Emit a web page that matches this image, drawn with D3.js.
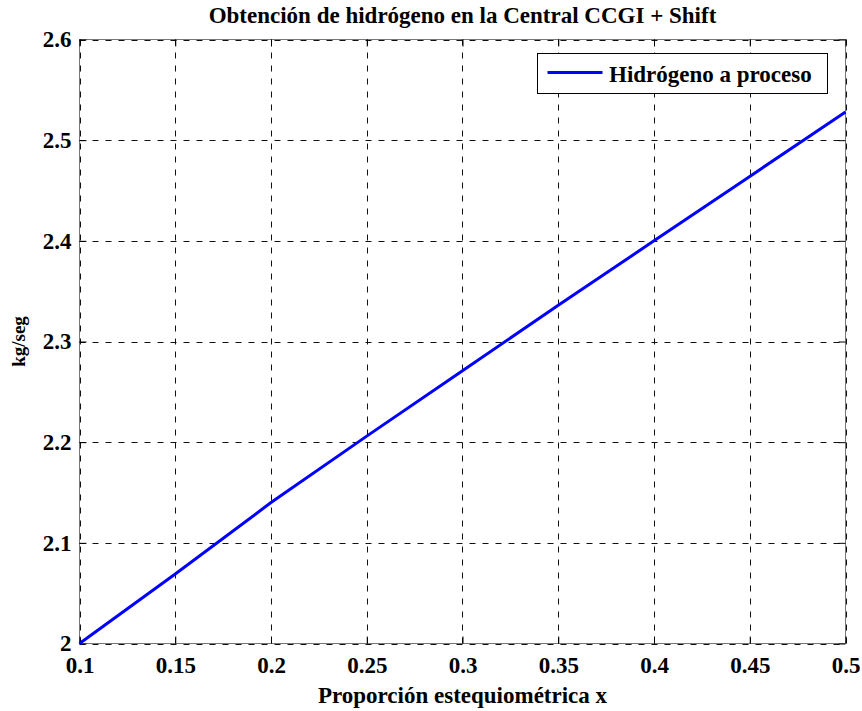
<!DOCTYPE html>
<html>
<head>
<meta charset="utf-8">
<script src="https://cdn.jsdelivr.net/npm/d3@7"></script>
<style>
  html, body { margin: 0; padding: 0; background: #fff; }
  svg { display: block; }
  text { font-family: "Liberation Serif", "Times New Roman", serif; font-weight: bold; fill: #000; }
</style>
</head>
<body>
<div id="chart"></div>
<script>
// ---- Data ----
const title = "Obtención de hidrógeno en la Central CCGI + Shift";
const xLabel = "Proporción estequiométrica x";
const yLabel = "kg/seg";
const seriesName = "Hidrógeno a proceso";
const proportion = [0.1, 0.15, 0.2, 0.25, 0.3, 0.35, 0.4, 0.45, 0.5];
const hydrogen   = [2.000, 2.069, 2.140, 2.206, 2.271, 2.336, 2.400, 2.464, 2.528];
const xTicks = [0.1, 0.15, 0.2, 0.25, 0.3, 0.35, 0.4, 0.45, 0.5];
const yTicks = [2, 2.1, 2.2, 2.3, 2.4, 2.5, 2.6];

// ---- Layout ----
const W = 862, H = 711;
const plot = { left: 79.5, right: 845.5, top: 39.5, bottom: 643.5 };
const serif = '"Liberation Serif", "Times New Roman", serif';

const svg = d3.select("#chart").append("svg").attr("width", W).attr("height", H);

const x = d3.scaleLinear().domain([0.1, 0.5]).range([plot.left, plot.right]);
const y = d3.scaleLinear().domain([2, 2.6]).range([plot.bottom, plot.top]);

const fmt = d => String(+d.toFixed(2));

// box (under grid)
svg.append("rect")
  .attr("x", plot.left).attr("y", plot.top)
  .attr("width", plot.right - plot.left).attr("height", plot.bottom - plot.top)
  .attr("fill", "none").attr("stroke", "#777").attr("stroke-width", 1);

// grid
const grid = svg.append("g").attr("stroke", "#111").attr("stroke-width", 1)
  .attr("stroke-dasharray", "6,7").attr("fill", "none");
grid.selectAll(".vg").data(xTicks).join("line")
  .attr("x1", d => Math.round(x(d)) + 0.5).attr("x2", d => Math.round(x(d)) + 0.5)
  .attr("y1", plot.top).attr("y2", plot.bottom);
grid.selectAll(".hg").data(yTicks).join("line")
  .attr("y1", d => Math.round(y(d)) + 0.5).attr("y2", d => Math.round(y(d)) + 0.5)
  .attr("x1", plot.left).attr("x2", plot.right);

// axes (ticks inward, labels)
const tickLen = 7;
const xAxis = d3.axisBottom(x).tickValues(xTicks).tickFormat(fmt).tickSizeInner(-tickLen).tickSizeOuter(0).tickPadding(13);
const gx = svg.append("g").attr("transform", `translate(0,${plot.bottom})`).call(xAxis)
  .attr("font-family", serif).attr("font-weight", "bold");
gx.select(".domain").remove();
gx.selectAll("line").attr("stroke", "#000");
gx.selectAll("text").style("font-size", "23px").style("font-family", serif).attr("dy", "0.71em");

const xAxisTop = d3.axisTop(x).tickValues(xTicks).tickFormat("").tickSizeInner(-tickLen).tickSizeOuter(0);
const gxt = svg.append("g").attr("transform", `translate(0,${plot.top})`).call(xAxisTop);
gxt.select(".domain").remove();
gxt.selectAll("line").attr("stroke", "#000");

const yAxis = d3.axisLeft(y).tickValues(yTicks).tickFormat(fmt).tickSizeInner(-tickLen).tickSizeOuter(0).tickPadding(8);
const gy = svg.append("g").attr("transform", `translate(${plot.left},0)`).call(yAxis)
  .attr("font-family", serif).attr("font-weight", "bold");
gy.select(".domain").remove();
gy.selectAll("line").attr("stroke", "#000");
gy.selectAll("text").style("font-size", "23px").style("font-family", serif);

const yAxisRight = d3.axisRight(y).tickValues(yTicks).tickFormat("").tickSizeInner(-tickLen).tickSizeOuter(0);
const gyr = svg.append("g").attr("transform", `translate(${plot.right},0)`).call(yAxisRight);
gyr.select(".domain").remove();
gyr.selectAll("line").attr("stroke", "#000");

// line
const line = d3.line().x((d, i) => x(proportion[i])).y(d => y(d));
svg.append("path").datum(hydrogen)
  .attr("d", line).attr("fill", "none")
  .attr("stroke", "#0000ff").attr("stroke-width", 3);

// title and labels
svg.append("text").attr("x", (plot.left + plot.right) / 2).attr("y", 23)
  .attr("text-anchor", "middle").style("font-size", "23px").text(title);
svg.append("text").attr("x", (plot.left + plot.right) / 2).attr("y", 703)
  .attr("text-anchor", "middle").style("font-size", "23px").text(xLabel);
svg.append("text").attr("transform", `translate(25,${(plot.top + plot.bottom) / 2}) rotate(-90)`)
  .attr("text-anchor", "middle").style("font-size", "19px").text(yLabel);

// legend
const lg = { x: 537.5, y: 53.5, w: 290, h: 40 };
const leg = svg.append("g");
leg.append("rect").attr("x", lg.x).attr("y", lg.y).attr("width", lg.w).attr("height", lg.h)
  .attr("fill", "#fff").attr("stroke", "#000").attr("stroke-width", 1);
leg.append("line").attr("x1", lg.x + 10).attr("x2", lg.x + 65)
  .attr("y1", lg.y + lg.h / 2 - 1).attr("y2", lg.y + lg.h / 2 - 1)
  .attr("stroke", "#0000ff").attr("stroke-width", 3);
leg.append("text").attr("x", lg.x + 71.5).attr("y", lg.y + 28)
  .style("font-size", "23px").text(seriesName);
</script>
</body>
</html>
